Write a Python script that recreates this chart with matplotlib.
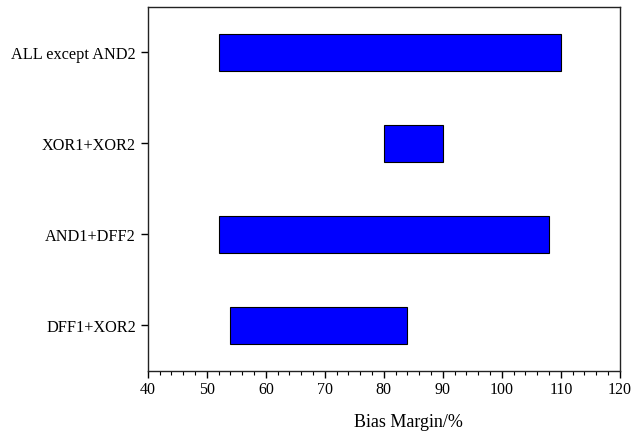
import numpy as np
import matplotlib.pyplot as plt
from matplotlib.ticker import MultipleLocator

categories = ['DFF1+XOR2', 'AND1+DFF2', 'XOR1+XOR2', 'ALL except AND2']
low = [54, 52, 80, 52]
high = [84, 108, 90, 110]

plt.rcParams['font.family'] = ['Liberation Serif', 'DejaVu Serif']
plt.rcParams['font.size'] = 11

fig = plt.figure(figsize=(6.43, 4.35), dpi=100)
ax = fig.add_axes([0.230, 0.145, 0.734, 0.837])

y = np.arange(len(categories))
widths = np.array(high) - np.array(low)
ax.barh(y, widths, left=low, height=0.4, color='#0000ff', edgecolor='black', linewidth=0.8)

ax.set_xlim(40, 120)
ax.set_ylim(-0.5, 3.5)
ax.set_yticks(y)
ax.set_yticklabels(categories, fontsize=11.7)
ax.xaxis.set_major_locator(MultipleLocator(10))
ax.xaxis.set_minor_locator(MultipleLocator(2))
ax.tick_params(axis='x', which='major', direction='out', length=5, width=1, top=False, labelsize=11.5, pad=2)
ax.tick_params(axis='x', which='minor', direction='out', length=3, width=0.8, top=False)
ax.tick_params(axis='y', direction='out', length=5, width=1, right=False)
for s in ax.spines.values():
    s.set_linewidth(1)
    s.set_color('#222222')
ax.set_xlabel('Bias Margin/%', fontsize=13)
ax.xaxis.set_label_coords(0.553, -0.115)

fig.savefig('out.png', dpi=100)
